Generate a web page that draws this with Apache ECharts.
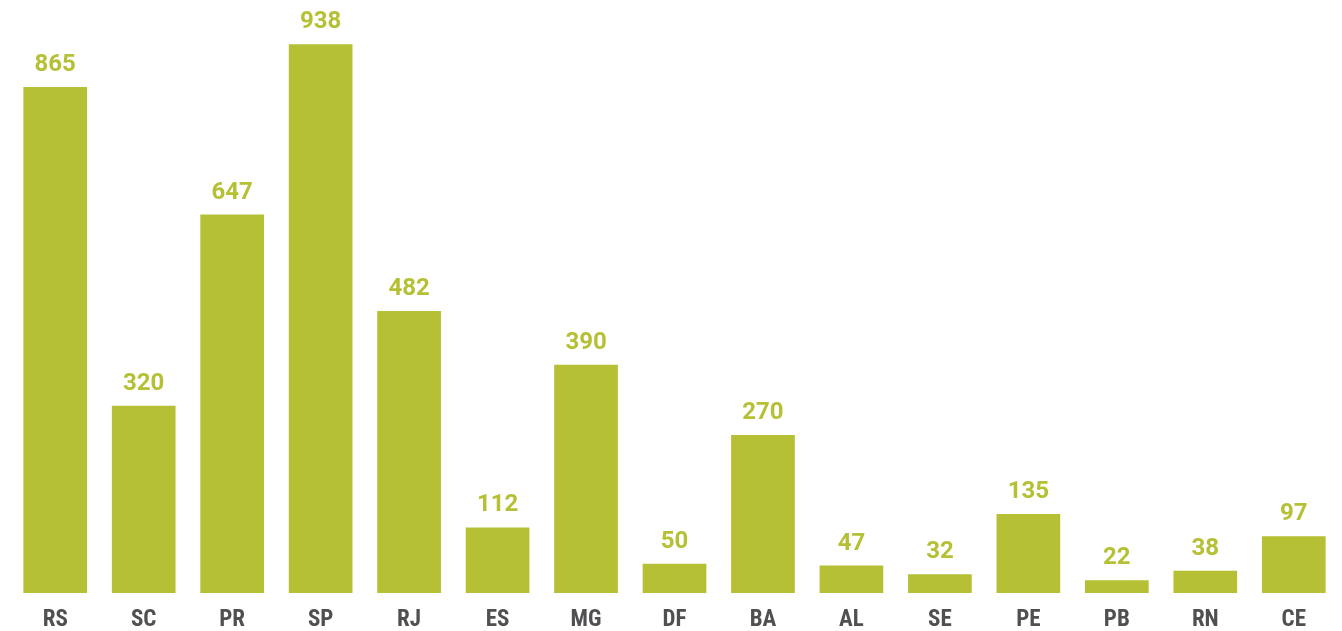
<!DOCTYPE html>
<html>
<head>
<meta charset="utf-8">
<script src="https://cdn.jsdelivr.net/npm/echarts@6/dist/echarts.min.js"></script>
<style>
html,body{margin:0;padding:0;background:#fff;}
#chart{width:1342px;height:631px;}
</style>
</head>
<body>
<div id="chart"></div>
<script>
const categories = ['RS','SC','PR','SP','RJ','ES','MG','DF','BA','AL','SE','PE','PB','RN','CE'];
const values = [865,320,647,938,482,112,390,50,270,47,32,135,22,38,97];

const chart = echarts.init(document.getElementById('chart'));
chart.setOption({
  animation: false,
  grid: { left: 11, right: 4, top: 8, bottom: 38, containLabel: false, outerBoundsMode: 'none' },
  xAxis: {
    type: 'category',
    data: categories,
    axisLine: { show: false },
    axisTick: { show: false },
    axisLabel: {
      color: '#505053',
      fontFamily: '"Roboto Condensed","Liberation Sans Narrow",Roboto,sans-serif',
      fontWeight: 'bold',
      fontSize: 23,
      margin: 16
    }
  },
  yAxis: {
    type: 'value',
    min: 0,
    max: 1000,
    show: false,
    splitLine: { show: false }
  },
  series: [{
    type: 'bar',
    data: values,
    barCategoryGap: '28%',
    itemStyle: { color: '#b5c035' },
    label: {
      show: true,
      position: 'top',
      distance: 10,
      color: '#b5c035',
      fontFamily: 'Roboto,sans-serif',
      fontWeight: 'bold',
      fontSize: 24
    }
  }]
});
</script>
</body>
</html>
